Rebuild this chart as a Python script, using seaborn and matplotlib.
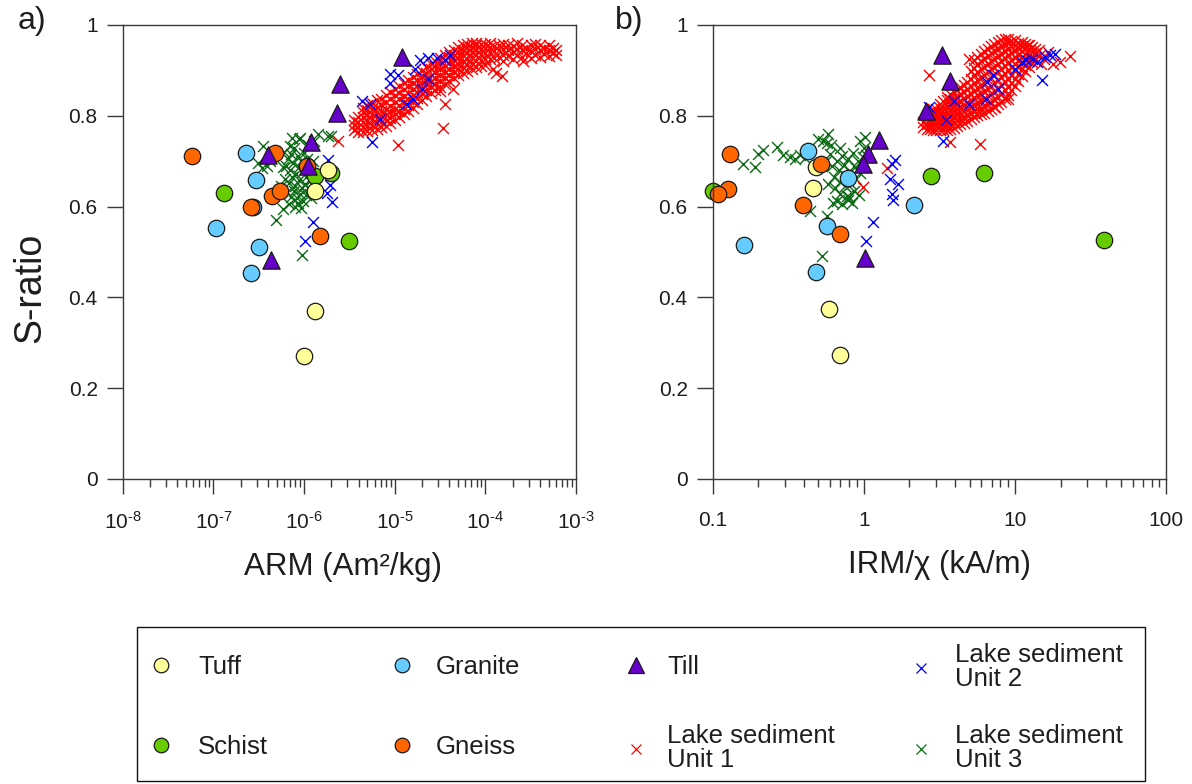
import matplotlib
matplotlib.use("Agg")
import matplotlib.pyplot as plt
from matplotlib.lines import Line2D
from matplotlib.patches import Rectangle
from matplotlib.ticker import LogLocator, NullFormatter, FixedLocator, FixedFormatter, FuncFormatter
import seaborn as sns

sns.set_style("ticks")
plt.rcParams["font.family"] = ["Liberation Sans", "DejaVu Sans"]
plt.rcParams["mathtext.fontset"] = "custom"
plt.rcParams["mathtext.rm"] = "Liberation Sans"
plt.rcParams["mathtext.it"] = "Liberation Sans:italic"
plt.rcParams["mathtext.bf"] = "Liberation Sans:bold"

# ---------------- panel a: S-ratio vs ARM (Am2/kg) ----------------
tuff_arm = [1.85e-6, 1.32e-6, 1.32e-6, 1.0e-6]
tuff_s_a = [0.681, 0.635, 0.370, 0.271]

granite_arm = [2.27e-7, 2.95e-7, 2.75e-7, 1.07e-7, 3.16e-7, 2.58e-7]
granite_s_a = [0.717, 0.659, 0.600, 0.553, 0.512, 0.454]

schist_arm = [1.31e-7, 1.32e-6, 1.98e-6, 3.15e-6]
schist_s_a = [0.630, 0.667, 0.673, 0.525]

gneiss_arm = [5.85e-8, 4.78e-7, 2.6e-7, 4.4e-7, 5.42e-7, 1.5e-6, 1.07e-6]
gneiss_s_a = [0.712, 0.718, 0.600, 0.624, 0.635, 0.536, 0.690]

till_arm = [1.19e-5, 2.49e-6, 2.34e-6, 1.19e-6, 4.04e-7, 1.1e-6, 4.29e-7]
till_s_a = [0.930, 0.871, 0.806, 0.742, 0.714, 0.689, 0.483]

# Lake sediment unit 1 (ARM, S-ratio), listed roughly column by column along the trend
lake1_arm = [
    3.55e-6, 3.55e-6, 3.55e-6,
    3.98e-6, 3.98e-6, 3.98e-6, 3.98e-6,
    4.47e-6, 4.47e-6, 4.47e-6, 4.47e-6, 4.47e-6, 4.47e-6,
    5.01e-6, 5.01e-6, 5.01e-6, 5.01e-6, 5.01e-6, 5.01e-6,
    5.62e-6, 5.62e-6, 5.62e-6, 5.62e-6, 5.62e-6, 5.62e-6,
    6.31e-6, 6.31e-6, 6.31e-6, 6.31e-6, 6.31e-6, 6.31e-6,
    7.08e-6, 7.08e-6, 7.08e-6, 7.08e-6, 7.08e-6, 7.08e-6,
    7.94e-6, 7.94e-6, 7.94e-6, 7.94e-6, 7.94e-6, 7.94e-6,
    8.91e-6, 8.91e-6, 8.91e-6, 8.91e-6, 8.91e-6, 8.91e-6,
    1.0e-5, 1.0e-5, 1.0e-5, 1.0e-5, 1.0e-5, 1.0e-5,
    1.12e-5, 1.12e-5, 1.12e-5, 1.12e-5, 1.12e-5, 1.12e-5,
    1.26e-5, 1.26e-5, 1.26e-5, 1.26e-5, 1.26e-5, 1.26e-5,
    1.41e-5, 1.41e-5, 1.41e-5, 1.41e-5, 1.41e-5, 1.41e-5,
    1.58e-5, 1.58e-5, 1.58e-5, 1.58e-5, 1.58e-5, 1.58e-5,
    1.78e-5, 1.78e-5, 1.78e-5, 1.78e-5, 1.78e-5, 1.78e-5,
    2.0e-5, 2.0e-5, 2.0e-5, 2.0e-5, 2.0e-5, 2.0e-5,
    2.24e-5, 2.24e-5, 2.24e-5, 2.24e-5, 2.24e-5, 2.24e-5,
    2.51e-5, 2.51e-5, 2.51e-5, 2.51e-5, 2.51e-5, 2.51e-5,
    2.82e-5, 2.82e-5, 2.82e-5, 2.82e-5, 2.82e-5, 2.82e-5,
    3.16e-5, 3.16e-5, 3.16e-5, 3.16e-5, 3.16e-5, 3.16e-5,
    3.55e-5, 3.55e-5, 3.55e-5, 3.55e-5, 3.55e-5, 3.55e-5,
    3.98e-5, 3.98e-5, 3.98e-5, 3.98e-5, 3.98e-5, 3.98e-5,
    4.47e-5, 4.47e-5, 4.47e-5, 4.47e-5, 4.47e-5, 4.47e-5,
    5.01e-5, 5.01e-5, 5.01e-5, 5.01e-5, 5.01e-5, 5.01e-5,
    5.62e-5, 5.62e-5, 5.62e-5, 5.62e-5, 5.62e-5, 5.62e-5,
    6.31e-5, 6.31e-5, 6.31e-5, 6.31e-5, 6.31e-5, 6.31e-5,
    7.08e-5, 7.08e-5, 7.08e-5, 7.08e-5, 7.08e-5, 7.08e-5,
    7.94e-5, 7.94e-5, 7.94e-5, 7.94e-5, 7.94e-5, 7.94e-5,
    8.91e-5, 8.91e-5, 8.91e-5, 8.91e-5, 8.91e-5,
    1.0e-4, 1.0e-4, 1.0e-4, 1.0e-4, 1.0e-4,
    1.12e-4, 1.12e-4, 1.12e-4, 1.12e-4,
    1.26e-4, 1.26e-4, 1.26e-4,
    1.41e-4, 1.41e-4, 1.41e-4,
    1.58e-4, 1.58e-4, 1.58e-4, 1.58e-4,
    1.78e-4, 1.78e-4, 1.78e-4,
    2.0e-4, 2.0e-4, 2.0e-4,
    2.24e-4, 2.24e-4, 2.24e-4,
    2.51e-4, 2.51e-4, 2.51e-4,
    2.82e-4, 2.82e-4,
    3.16e-4, 3.16e-4, 3.16e-4,
    3.55e-4, 3.55e-4, 3.55e-4,
    3.98e-4, 3.98e-4, 3.98e-4,
    4.47e-4, 4.47e-4,
    5.01e-4, 5.01e-4, 5.01e-4,
    5.62e-4, 5.62e-4,
    6.0e-4, 6.0e-4,
    3.43e-5, 1.09e-5, 2.38e-6, 3.57e-5, 3.15e-5, 4.42e-5, 1.22e-4, 1.51e-4, 2.6e-4, 1.3e-4,
]
lake1_s_a = [
    0.768, 0.779, 0.790,
    0.765, 0.776, 0.787, 0.798,
    0.764, 0.775, 0.786, 0.797, 0.808, 0.818,
    0.766, 0.777, 0.789, 0.801, 0.812, 0.824,
    0.769, 0.780, 0.792, 0.804, 0.816, 0.829,
    0.772, 0.784, 0.796, 0.808, 0.820, 0.834,
    0.775, 0.787, 0.799, 0.811, 0.824, 0.838,
    0.778, 0.790, 0.803, 0.816, 0.830, 0.845,
    0.784, 0.796, 0.809, 0.822, 0.836, 0.852,
    0.790, 0.803, 0.816, 0.830, 0.845, 0.860,
    0.797, 0.810, 0.823, 0.837, 0.851, 0.866,
    0.803, 0.816, 0.830, 0.844, 0.858, 0.873,
    0.810, 0.823, 0.837, 0.851, 0.865, 0.879,
    0.818, 0.831, 0.845, 0.858, 0.872, 0.885,
    0.826, 0.839, 0.852, 0.865, 0.878, 0.891,
    0.835, 0.848, 0.861, 0.873, 0.886, 0.898,
    0.843, 0.856, 0.869, 0.882, 0.895, 0.907,
    0.850, 0.863, 0.876, 0.889, 0.902, 0.914,
    0.857, 0.870, 0.883, 0.896, 0.909, 0.921,
    0.864, 0.877, 0.890, 0.903, 0.915, 0.927,
    0.870, 0.883, 0.896, 0.909, 0.922, 0.934,
    0.877, 0.890, 0.903, 0.916, 0.929, 0.940,
    0.883, 0.896, 0.909, 0.922, 0.935, 0.946,
    0.889, 0.902, 0.915, 0.928, 0.940, 0.952,
    0.895, 0.908, 0.921, 0.934, 0.946, 0.957,
    0.899, 0.912, 0.925, 0.938, 0.950, 0.959,
    0.903, 0.916, 0.929, 0.941, 0.952, 0.960,
    0.907, 0.920, 0.933, 0.945, 0.955, 0.961,
    0.910, 0.923, 0.936, 0.948, 0.958,
    0.912, 0.925, 0.938, 0.950, 0.959,
    0.925, 0.940, 0.952, 0.960,
    0.928, 0.942, 0.954,
    0.930, 0.944, 0.956,
    0.920, 0.935, 0.948, 0.958,
    0.932, 0.946, 0.957,
    0.925, 0.940, 0.953,
    0.935, 0.948, 0.960,
    0.930, 0.944, 0.956,
    0.938, 0.950,
    0.928, 0.942, 0.955,
    0.935, 0.948, 0.958,
    0.930, 0.944, 0.955,
    0.936, 0.950,
    0.932, 0.945, 0.955,
    0.938, 0.950,
    0.935, 0.945,
    0.773, 0.736, 0.744, 0.825, 0.854, 0.858, 0.902, 0.887, 0.920, 0.895,
]

lake2_arm = [1.90e-5, 2.32e-5, 2.92e-5, 4.06e-5, 3.58e-5, 8.85e-6, 1.09e-5, 8.85e-6,
             1.67e-5, 2.34e-5, 1.98e-5, 1.60e-5, 1.35e-5, 4.31e-6, 5.33e-6, 6.87e-6,
             5.56e-6, 1.85e-6, 1.93e-6, 1.77e-6, 2.01e-6, 1.26e-6, 1.02e-6]
lake2_s_a = [0.924, 0.928, 0.928, 0.935, 0.924, 0.891, 0.889, 0.873,
             0.902, 0.880, 0.858, 0.836, 0.825, 0.832, 0.825, 0.792,
             0.742, 0.703, 0.648, 0.630, 0.611, 0.567, 0.525]

lake3_arm = [3.1e-7, 3.9e-7, 3.55e-7, 5.9e-7, 4.9e-7, 9.5e-7, 9.0e-7, 1.44e-6, 1.85e-6,
             2.0e-6, 7.3e-7, 8.9e-7, 7.0e-7, 4.2e-7, 3.4e-7,
             6.0e-7, 6.6e-7, 7.2e-7, 7.8e-7, 8.5e-7, 9.3e-7, 1.0e-6, 1.08e-6,
             6.3e-7, 7.0e-7, 7.6e-7, 8.2e-7, 8.8e-7, 9.6e-7, 1.05e-6, 1.15e-6,
             6.1e-7, 6.8e-7, 7.4e-7, 8.0e-7, 8.7e-7, 9.4e-7, 1.02e-6, 1.12e-6,
             6.5e-7, 7.1e-7, 7.7e-7, 8.4e-7, 9.0e-7, 9.8e-7, 1.06e-6, 1.2e-6,
             6.9e-7, 7.9e-7, 8.6e-7, 9.2e-7, 5.6e-7, 5.8e-7, 1.25e-6, 1.22e-6, 1.3e-6, 1.1e-6]
lake3_s_a = [0.697, 0.690, 0.733, 0.595, 0.571, 0.494, 0.751, 0.759, 0.755,
             0.755, 0.751, 0.748, 0.733, 0.700, 0.686,
             0.720, 0.705, 0.715, 0.728, 0.712, 0.700, 0.718, 0.705,
             0.690, 0.680, 0.695, 0.672, 0.688, 0.676, 0.665, 0.680,
             0.660, 0.652, 0.665, 0.645, 0.658, 0.640, 0.650, 0.642,
             0.632, 0.622, 0.635, 0.618, 0.628, 0.612, 0.625, 0.618,
             0.605, 0.600, 0.608, 0.598, 0.645, 0.688, 0.700, 0.660, 0.745, 0.735]

# ---------------- panel b: S-ratio vs IRM/chi (kA/m) ----------------
tuff_irm = [0.480, 0.463, 0.587, 0.697]
tuff_s_b = [0.687, 0.640, 0.374, 0.274]

granite_irm = [0.427, 0.785, 2.16, 0.566, 0.161, 0.482]
granite_s_b = [0.722, 0.662, 0.604, 0.558, 0.516, 0.457]

schist_irm = [0.1005, 2.78, 6.2, 38.8]
schist_s_b = [0.635, 0.668, 0.674, 0.527]

gneiss_irm = [0.131, 0.127, 0.1076, 0.521, 0.395, 0.692]
gneiss_s_b = [0.716, 0.639, 0.627, 0.693, 0.604, 0.540]

till_irm = [3.30, 3.74, 2.59, 1.26, 1.07, 0.985, 1.025]
till_s_b = [0.935, 0.876, 0.811, 0.746, 0.716, 0.693, 0.487]

lake1_irm = [
    2.47, 2.47,
    2.60, 2.60, 2.60,
    2.73, 2.73, 2.73, 2.73,
    2.87, 2.87, 2.87, 2.87, 2.87,
    3.02, 3.02, 3.02, 3.02, 3.02,
    3.18, 3.18, 3.18, 3.18, 3.18, 3.18,
    3.35, 3.35, 3.35, 3.35, 3.35, 3.35,
    3.53, 3.53, 3.53, 3.53, 3.53, 3.53, 3.53,
    3.72, 3.72, 3.72, 3.72, 3.72, 3.72, 3.72,
    3.92, 3.92, 3.92, 3.92, 3.92, 3.92, 3.92,
    4.13, 4.13, 4.13, 4.13, 4.13, 4.13, 4.13,
    4.35, 4.35, 4.35, 4.35, 4.35, 4.35, 4.35,
    4.58, 4.58, 4.58, 4.58, 4.58, 4.58, 4.58,
    4.82, 4.82, 4.82, 4.82, 4.82, 4.82, 4.82,
    5.08, 5.08, 5.08, 5.08, 5.08, 5.08, 5.08, 5.08,
    5.35, 5.35, 5.35, 5.35, 5.35, 5.35, 5.35, 5.35, 5.35,
    5.63, 5.63, 5.63, 5.63, 5.63, 5.63, 5.63, 5.63, 5.63,
    5.93, 5.93, 5.93, 5.93, 5.93, 5.93, 5.93, 5.93, 5.93,
    6.25, 6.25, 6.25, 6.25, 6.25, 6.25, 6.25, 6.25, 6.25,
    6.58, 6.58, 6.58, 6.58, 6.58, 6.58, 6.58, 6.58, 6.58,
    6.93, 6.93, 6.93, 6.93, 6.93, 6.93, 6.93, 6.93, 6.93,
    7.30, 7.30, 7.30, 7.30, 7.30, 7.30, 7.30, 7.30, 7.30,
    7.69, 7.69, 7.69, 7.69, 7.69, 7.69, 7.69, 7.69, 7.69,
    8.10, 8.10, 8.10, 8.10, 8.10, 8.10, 8.10, 8.10, 8.10,
    8.53, 8.53, 8.53, 8.53, 8.53, 8.53, 8.53, 8.53, 8.53,
    8.98, 8.98, 8.98, 8.98, 8.98, 8.98, 8.98, 8.98, 8.98,
    9.46, 9.46, 9.46, 9.46, 9.46, 9.46, 9.46, 9.46,
    9.96, 9.96, 9.96, 9.96, 9.96, 9.96, 9.96, 9.96,
    10.5, 10.5, 10.5, 10.5, 10.5, 10.5, 10.5,
    11.1, 11.1, 11.1, 11.1, 11.1, 11.1, 11.1,
    11.6, 11.6, 11.6, 11.6, 11.6, 11.6,
    12.3, 12.3, 12.3, 12.3, 12.3,
    12.9, 12.9, 12.9, 12.9,
    13.6, 13.6, 13.6,
    14.3, 14.3,
    2.71, 4.98, 5.86, 3.71, 9.02, 7.36, 23.1, 19.8, 17.9, 12.2, 1.42, 0.98, 15.5, 16.5, 14.8,
]
lake1_s_b = [
    0.775, 0.787,
    0.771, 0.783, 0.796,
    0.770, 0.782, 0.794, 0.806,
    0.769, 0.781, 0.793, 0.805, 0.814,
    0.768, 0.780, 0.792, 0.804, 0.816,
    0.768, 0.780, 0.793, 0.806, 0.818, 0.826,
    0.768, 0.781, 0.794, 0.807, 0.820, 0.833,
    0.769, 0.782, 0.795, 0.808, 0.821, 0.834, 0.842,
    0.771, 0.784, 0.797, 0.810, 0.823, 0.836, 0.847,
    0.774, 0.787, 0.800, 0.813, 0.826, 0.839, 0.852,
    0.777, 0.790, 0.803, 0.816, 0.829, 0.842, 0.857,
    0.781, 0.794, 0.807, 0.820, 0.833, 0.847, 0.863,
    0.785, 0.798, 0.811, 0.824, 0.838, 0.852, 0.868,
    0.789, 0.802, 0.815, 0.829, 0.843, 0.858, 0.875,
    0.793, 0.806, 0.820, 0.834, 0.849, 0.865, 0.882, 0.898,
    0.797, 0.810, 0.824, 0.839, 0.855, 0.872, 0.889, 0.906, 0.922,
    0.801, 0.815, 0.829, 0.845, 0.861, 0.878, 0.896, 0.913, 0.930,
    0.804, 0.818, 0.833, 0.849, 0.866, 0.884, 0.902, 0.920, 0.937,
    0.807, 0.822, 0.838, 0.855, 0.872, 0.890, 0.908, 0.926, 0.943,
    0.810, 0.826, 0.843, 0.860, 0.878, 0.896, 0.914, 0.932, 0.948,
    0.814, 0.831, 0.848, 0.866, 0.884, 0.902, 0.920, 0.938, 0.953,
    0.819, 0.836, 0.854, 0.872, 0.890, 0.908, 0.926, 0.943, 0.958,
    0.825, 0.842, 0.860, 0.878, 0.896, 0.914, 0.932, 0.948, 0.962,
    0.831, 0.849, 0.867, 0.885, 0.903, 0.920, 0.937, 0.953, 0.966,
    0.838, 0.856, 0.874, 0.892, 0.910, 0.927, 0.943, 0.958, 0.969,
    0.846, 0.864, 0.882, 0.900, 0.917, 0.933, 0.948, 0.961, 0.970,
    0.856, 0.873, 0.890, 0.907, 0.923, 0.939, 0.953, 0.965,
    0.866, 0.882, 0.898, 0.914, 0.929, 0.944, 0.957, 0.967,
    0.877, 0.892, 0.907, 0.921, 0.935, 0.949, 0.961,
    0.888, 0.902, 0.916, 0.929, 0.942, 0.954, 0.963,
    0.898, 0.912, 0.925, 0.937, 0.949, 0.959,
    0.908, 0.921, 0.933, 0.945, 0.955,
    0.918, 0.930, 0.941, 0.951,
    0.926, 0.938, 0.948,
    0.932, 0.944,
    0.889, 0.926, 0.738, 0.742, 0.838, 0.819, 0.931, 0.919, 0.915, 0.956, 0.685, 0.643, 0.925, 0.940, 0.915,
]

lake2_irm = [2.71, 3.49, 3.94, 4.98, 6.43, 6.49, 7.18, 7.74, 9.98, 3.32, 11.9, 12.9, 13.9,
             15.0, 15.8, 17.0, 18.4, 11.1, 1.53, 1.61, 1.49, 1.67, 1.53, 1.55, 1.15, 1.03]
lake2_s_b = [0.820, 0.790, 0.833, 0.825, 0.838, 0.875, 0.889, 0.860, 0.902, 0.744, 0.923, 0.926, 0.919,
             0.878, 0.930, 0.934, 0.937, 0.919, 0.694, 0.702, 0.661, 0.650, 0.628, 0.615, 0.567, 0.525]

lake3_irm = [0.60, 0.66, 0.72, 0.78, 0.85, 0.92, 0.98,
             0.62, 0.68, 0.74, 0.80, 0.87, 0.94,
             0.63, 0.70, 0.76, 0.82, 0.89,
             0.64, 0.70, 0.75, 0.80, 0.86, 0.93,
             0.66, 0.72, 0.78, 0.84, 0.58, 0.56, 1.0, 0.95, 0.70, 0.61,
             0.158, 0.19, 0.20, 0.216, 0.265, 0.293, 0.324, 0.378, 0.44, 0.526, 0.499,
             0.567, 0.582, 1.016, 1.04, 0.769, 0.628, 0.567, 0.35, 0.41, 0.54]
lake3_s_b = [0.715, 0.700, 0.712, 0.705, 0.718, 0.700, 0.710,
             0.690, 0.680, 0.692, 0.678, 0.688, 0.675,
             0.665, 0.655, 0.668, 0.650, 0.660,
             0.640, 0.628, 0.645, 0.622, 0.635, 0.625,
             0.612, 0.605, 0.615, 0.608, 0.650, 0.700, 0.730, 0.745, 0.728, 0.735,
             0.694, 0.687, 0.716, 0.724, 0.731, 0.713, 0.709, 0.713, 0.591, 0.492, 0.750,
             0.739, 0.761, 0.753, 0.713, 0.624, 0.609, 0.580, 0.705, 0.708, 0.745]

y_ticks = [0, 0.2, 0.4, 0.6, 0.8, 1.0]
arm_ticks = [1e-8, 1e-7, 1e-6, 1e-5, 1e-4, 1e-3]
arm_labels = [r"$10^{\text{-}8}$", r"$10^{\text{-}7}$", r"$10^{\text{-}6}$",
              r"$10^{\text{-}5}$", r"$10^{\text{-}4}$", r"$10^{\text{-}3}$"]
irm_ticks = [0.1, 1, 10, 100]
irm_labels = ["0.1", "1", "10", "100"]

# ---------------- styles ----------------
C_TUFF = "#FFFF99"
C_GRANITE = "#66CCFF"
C_SCHIST = "#66CC00"
C_GNEISS = "#FF6600"
C_TILL = "#6600CC"
C_L1 = "#FF0000"
C_L2 = "#0000FF"
C_L3 = "#0B6B14"
EDGE = "#1a1a1a"
AXC = "#3a3a3a"
TXT = "#1e1e1e"

DPI = 100
W, H = 1192, 784
fig = plt.figure(figsize=(W / DPI, H / DPI), dpi=DPI)
fig.patch.set_facecolor("white")

ax_a = fig.add_axes([122.7 / W, 1 - 479 / H, 453.3 / W, 454 / H])
ax_b = fig.add_axes([712.7 / W, 1 - 479 / H, 453.5 / W, 454 / H])


def draw_panel(ax, xs):
    (l3x, l3y), (l1x, l1y), (l2x, l2y), (scx, scy), (tux, tuy), (grx, gry), (gnx, gny), (tix, tiy) = xs
    cross = dict(marker="x", s=62, linewidth=1.0, legend=False, clip_on=False, ax=ax)
    filled = dict(marker="o", s=140, edgecolor=EDGE, linewidth=0.9, legend=False, clip_on=False, ax=ax)
    sns.scatterplot(x=l3x, y=l3y, color=C_L3, **cross)
    sns.scatterplot(x=l1x, y=l1y, color=C_L1, **cross)
    sns.scatterplot(x=l2x, y=l2y, color=C_L2, **cross)
    sns.scatterplot(x=scx, y=scy, color=C_SCHIST, **filled)
    sns.scatterplot(x=tux, y=tuy, color=C_TUFF, **filled)
    sns.scatterplot(x=grx, y=gry, color=C_GRANITE, **filled)
    sns.scatterplot(x=gnx, y=gny, color=C_GNEISS, **filled)
    sns.scatterplot(x=tix, y=tiy, color=C_TILL, marker="^", s=155, edgecolor=EDGE,
                    linewidth=0.9, legend=False, clip_on=False, ax=ax)


draw_panel(ax_a, [(lake3_arm, lake3_s_a), (lake1_arm, lake1_s_a), (lake2_arm, lake2_s_a),
                  (schist_arm, schist_s_a), (tuff_arm, tuff_s_a), (granite_arm, granite_s_a),
                  (gneiss_arm, gneiss_s_a), (till_arm, till_s_a)])
draw_panel(ax_b, [(lake3_irm, lake3_s_b), (lake1_irm, lake1_s_b), (lake2_irm, lake2_s_b),
                  (schist_irm, schist_s_b), (tuff_irm, tuff_s_b), (granite_irm, granite_s_b),
                  (gneiss_irm, gneiss_s_b), (till_irm, till_s_b)])

for ax, ticks, labels, lim in [(ax_a, arm_ticks, arm_labels, (1e-8, 1e-3)),
                               (ax_b, irm_ticks, irm_labels, (0.1, 100))]:
    ax.set_xscale("log")
    ax.set_xlim(*lim)
    ax.set_ylim(0, 1)
    ax.xaxis.set_major_locator(FixedLocator(ticks))
    ax.xaxis.set_major_formatter(FixedFormatter(labels))
    ax.xaxis.set_minor_locator(LogLocator(base=10, subs=[2, 3, 4, 5, 6, 7, 8, 9], numticks=50))
    ax.xaxis.set_minor_formatter(NullFormatter())
    ax.yaxis.set_major_locator(FixedLocator(y_ticks))
    ax.yaxis.set_major_formatter(FuncFormatter(lambda v, p: f"{v:g}"))
    for sp in ax.spines.values():
        sp.set_visible(True)
        sp.set_color(AXC)
        sp.set_linewidth(1.0)
    ax.tick_params(axis="both", which="major", direction="out", color=AXC, width=1.0,
                   labelsize=15, labelcolor=TXT)
    ax.tick_params(axis="x", which="major", length=11, pad=12)
    ax.tick_params(axis="x", which="minor", length=5.5, width=1.0, color=AXC)
    ax.tick_params(axis="y", which="major", length=11.5, pad=6.5)
    ax.tick_params(top=False, right=False, which="both")
    ax.set_facecolor("white")
    ax.grid(False)

ax_a.set_xlabel("ARM (Am²/kg)", fontsize=22.5, color=TXT)
ax_a.xaxis.set_label_coords(0.486, -0.194)
ax_a.xaxis.label.set_va("center")
ax_b.set_xlabel("IRM/χ (kA/m)", fontsize=22.5, color=TXT)
ax_b.xaxis.set_label_coords(0.500, -0.190)
ax_b.xaxis.label.set_va("center")
ax_a.set_ylabel("S-ratio", fontsize=27, color=TXT)
ax_a.yaxis.set_label_coords(-0.2045, 0.421)
ax_a.yaxis.label.set_va("center")
ax_b.set_ylabel("")

fig.text(32 / W, 1 - 21 / H, "a)", fontsize=23, ha="center", va="center", color=TXT)
fig.text(629 / W, 1 - 21 / H, "b)", fontsize=23, ha="center", va="center", color=TXT)

# ---------------- legend ----------------
fig.add_artist(Rectangle((136.5 / W, 1 - 781 / H), (1145 - 136.5) / W, (781 - 627) / H,
                         transform=fig.transFigure, fill=False, edgecolor="#111111", linewidth=1.0))

leg_fs = 18.5
fs_px = leg_fs * DPI / 72.0
entries = [
    ("Tuff", dict(marker="o", markerfacecolor=C_TUFF, markeredgecolor=EDGE, markersize=10.5), 161, 667, 198),
    ("Schist", dict(marker="o", markerfacecolor=C_SCHIST, markeredgecolor=EDGE, markersize=10.5), 161, 747, 198),
    ("Granite", dict(marker="o", markerfacecolor=C_GRANITE, markeredgecolor=EDGE, markersize=10.5), 402, 667, 436),
    ("Gneiss", dict(marker="o", markerfacecolor=C_GNEISS, markeredgecolor=EDGE, markersize=10.5), 402, 747, 436),
    ("Till", dict(marker="^", markerfacecolor=C_TILL, markeredgecolor=EDGE, markersize=11), 636, 667, 667),
    ("Lake sediment\nUnit 1", dict(marker="x", color=C_L1, markersize=7), 636, 748, 667),
    ("Lake sediment\nUnit 2", dict(marker="x", color=C_L2, markersize=7), 920.5, 667, 955),
    ("Lake sediment\nUnit 3", dict(marker="x", color=C_L3, markersize=7), 920.5, 748, 955),
]
for label, mk, mx, my, tx in entries:
    handle = Line2D([], [], linestyle="None", markeredgewidth=0.9, **mk)
    handlelen = 0.8
    left = mx - handlelen * fs_px / 2
    pad = (tx - left - handlelen * fs_px) / fs_px
    leg = fig.legend(handles=[handle], labels=[label], loc="center left",
                     bbox_to_anchor=(left / W, 1 - my / H), bbox_transform=fig.transFigure,
                     frameon=False, fontsize=leg_fs, handlelength=handlelen, handletextpad=pad,
                     borderpad=0, borderaxespad=0, numpoints=1, labelcolor=TXT)
    for t in leg.get_texts():
        t.set_linespacing(1.0)

fig.savefig("out.png", dpi=DPI, facecolor="white")
